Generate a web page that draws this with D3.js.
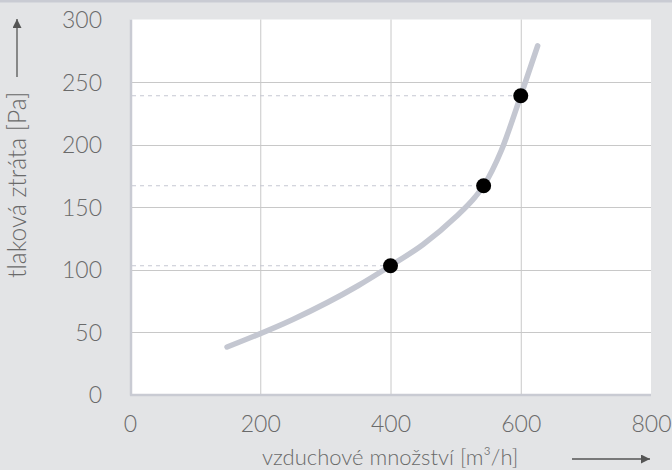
<!DOCTYPE html>
<html><head><meta charset="utf-8">
<script src="https://cdn.jsdelivr.net/npm/d3@7"></script>
<style>
html,body{margin:0;padding:0;background:#e3e4e6;}
svg{display:block;}
text{font-family:"Lato","Open Sans",sans-serif;font-weight:300;fill:#6a6a6a;}
</style></head><body>
<svg id="c" width="672" height="470"></svg>
<script>
const xTicks = [0, 200, 400, 600, 800];
const yTicks = [0, 50, 100, 150, 200, 250, 300];
const curveX = [149, 250, 350, 400, 450, 500, 530, 543, 570, 600, 626];
const curveY = [38, 60, 87, 103, 120, 142, 158, 167, 195, 239, 279];
const pointX = [400, 543, 600];
const pointY = [103, 167, 239];
const xTitle = "vzduchové množství [m³/h]";
const yTitle = "tlaková ztráta [Pa]";

const W = 672, H = 470;
const m = {left:130, right:21, top:19.5, bottom:75.5};
const svg = d3.select("#c");
svg.append("rect").attr("width",W).attr("height",H).attr("fill","#e3e4e6");
svg.append("rect").attr("width",W).attr("height",2.5).attr("fill","#c9cbd3");

const x = d3.scaleLinear().domain([0,800]).range([m.left, W-m.right]);
const y = d3.scaleLinear().domain([0,300]).range([H-m.bottom, m.top]);

svg.append("rect").attr("x",x(0)).attr("y",y(300)).attr("width",x(800)-x(0)).attr("height",y(0)-y(300)).attr("fill","#fff");

// grid
const g = svg.append("g");
g.selectAll(".vg").data(xTicks.slice(1,-1)).join("line")
  .attr("x1",d=>x(d)+0.5).attr("x2",d=>x(d)+0.5).attr("y1",y(300)).attr("y2",y(0))
  .attr("stroke","#c8c8c8").attr("stroke-width",1);
g.selectAll(".hg").data(yTicks.slice(1,-1)).join("line")
  .attr("x1",x(0)).attr("x2",x(800)).attr("y1",d=>Math.round(y(d))+0.5).attr("y2",d=>Math.round(y(d))+0.5)
  .attr("stroke","#c8c8c8").attr("stroke-width",1);

// border left & bottom
svg.append("line").attr("x1",x(0)+1).attr("x2",x(0)+1).attr("y1",y(300)).attr("y2",y(0)+1)
  .attr("stroke","#c9cbd3").attr("stroke-width",2.5);
svg.append("line").attr("x1",x(0)).attr("x2",x(800)).attr("y1",y(0)+0.5).attr("y2",y(0)+0.5)
  .attr("stroke","#c9cbd3").attr("stroke-width",2.5);

// dashed guides
svg.selectAll(".dash").data(pointX.map((d,i)=>[d,pointY[i]])).join("line")
  .attr("x1",x(0)+2).attr("x2",d=>x(d[0])).attr("y1",d=>y(d[1])).attr("y2",d=>y(d[1]))
  .attr("stroke","#c5c7d2").attr("stroke-width",1).attr("stroke-dasharray","4,4");

// curve
const line = d3.line().x(d=>x(d[0])).y(d=>y(d[1])).curve(d3.curveMonotoneX);
svg.append("path").datum(curveX.map((d,i)=>[d,curveY[i]]))
  .attr("d",line).attr("fill","none").attr("stroke","#c4c7d1").attr("stroke-width",5.5)
  .attr("stroke-linecap","round");

// points
svg.selectAll(".pt").data(pointX.map((d,i)=>[d,pointY[i]])).join("circle")
  .attr("cx",d=>x(d[0])).attr("cy",d=>y(d[1])).attr("r",7.5).attr("fill","#000");

// axes
const fs = 23;
const yAxis = d3.axisLeft(y).tickValues(yTicks).tickSize(0).tickPadding(0);
const ya = svg.append("g").attr("transform",`translate(102,0)`).call(yAxis);
ya.select(".domain").remove();
ya.selectAll("text").style("font-size",fs+"px").style("font-family",null).attr("fill",null).attr("dy","0.36em");

const xAxis = d3.axisBottom(x).tickValues(xTicks).tickSize(0).tickPadding(0);
const xa = svg.append("g").attr("transform",`translate(0,${y(0)})`).call(xAxis);
xa.select(".domain").remove();
xa.selectAll("text").style("font-size",fs+"px").style("font-family",null).attr("fill",null).attr("y",37.5).attr("dy",null);

// titles
svg.append("text").attr("x",262).attr("y",465).style("font-size","22px").text(xTitle);
svg.append("text").attr("transform","translate(26,278) rotate(-90)").style("font-size","24.5px").text(yTitle);

// arrows
svg.append("defs").append("marker").attr("id","ah").attr("viewBox","0 0 10 10")
  .attr("refX",10).attr("refY",5).attr("markerWidth",13).attr("markerHeight",9)
  .attr("markerUnits","userSpaceOnUse").attr("orient","auto")
  .append("path").attr("d","M0,0 L10,5 L0,10 Z").attr("fill","#555");
svg.append("line").attr("x1",572).attr("x2",650).attr("y1",459).attr("y2",459)
  .attr("stroke","#555").attr("stroke-width",1.3).attr("marker-end","url(#ah)");
svg.append("line").attr("x1",17).attr("x2",17).attr("y1",77).attr("y2",19)
  .attr("stroke","#555").attr("stroke-width",1.3).attr("marker-end","url(#ah)");
</script>
</body></html>
